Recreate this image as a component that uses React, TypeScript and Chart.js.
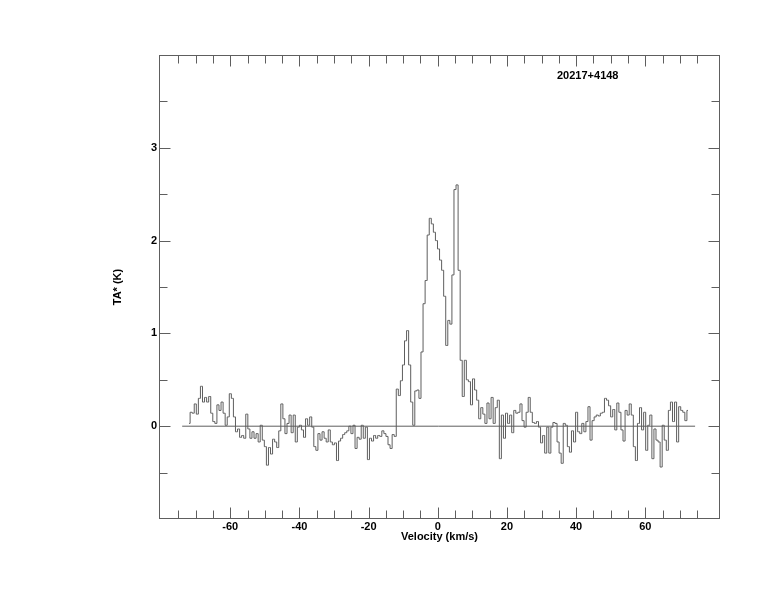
import React, { useEffect, useRef } from 'react';
import { Chart, registerables } from 'chart.js';

Chart.register(...registerables);

// Spectrum channels (velocity grid) and antenna temperatures
const channelStart = -71.9; // km/s, centre of first channel
const channelWidth = 0.596; // km/s
const temperatures: number[] = [
  0.03, 0.15, 0.14, 0.24, 0.13, 0.30, 0.43, 0.26, 0.31, 0.26,
  0.32, 0.14, 0.05, 0.03, 0.23, 0.17, 0.26, 0.14, 0.01, 0.10,
  0.35, 0.30, 0.10, -0.06, -0.03, -0.12, -0.10, -0.13, 0.13, -0.03,
  -0.13, -0.06, -0.13, -0.08, -0.17, 0.01, -0.15, -0.22, -0.42, -0.23,
  -0.30, -0.14, -0.17, -0.23, -0.05, 0.24, 0.08, -0.08, 0.03, 0.12,
  -0.07, 0.12, -0.17, -0.01, 0.01, -0.04, -0.12, 0.08, 0.01, 0.10,
  -0.01, -0.22, -0.26, -0.08, -0.15, -0.06, -0.13, -0.17, -0.04, -0.17,
  -0.20, -0.18, -0.37, -0.16, -0.13, -0.09, -0.07, -0.05, 0.00, -0.08,
  0.01, -0.24, -0.12, -0.14, 0.01, -0.13, -0.01, -0.36, -0.13, -0.16,
  -0.10, -0.13, -0.10, -0.11, -0.05, -0.08, -0.11, -0.20, -0.24, -0.09,
  -0.11, 0.40, 0.33, 0.49, 0.66, 0.92, 1.03, 0.66, 0.26, 0.01,
  0.38, 0.39, 0.30, 0.80, 1.32, 1.57, 2.06, 2.24, 2.18, 2.09,
  2.00, 1.91, 1.79, 1.68, 1.40, 0.87, 1.14, 1.10, 1.63, 2.55,
  2.60, 1.68, 0.71, 0.32, 0.71, 0.50, 0.48, 0.23, 0.51, 0.39,
  0.28, 0.08, 0.20, 0.13, 0.03, 0.25, 0.08, 0.31, 0.03, 0.20,
  0.28, -0.35, 0.12, -0.13, 0.14, 0.03, 0.12, -0.07, 0.17, 0.14,
  0.15, 0.24, 0.06, -0.01, 0.15, 0.31, 0.15, 0.04, 0.03, 0.05,
  -0.01, -0.18, -0.10, -0.29, -0.01, -0.29, -0.01, 0.04, 0.03, -0.17,
  -0.29, -0.40, 0.03, 0.01, -0.22, -0.28, -0.05, -0.17, 0.15, -0.06,
  -0.08, 0.03, -0.06, 0.05, 0.21, -0.15, 0.06, 0.10, 0.12, 0.11,
  0.14, 0.15, 0.30, 0.28, 0.22, 0.10, 0.18, -0.04, 0.25, 0.15,
  -0.04, -0.16, 0.17, 0.12, 0.24, 0.12, -0.22, -0.37, 0.03, 0.20,
  -0.04, 0.15, -0.26, 0.01, 0.12, -0.35, -0.03, -0.15, -0.17, -0.44,
  0.01, -0.15, -0.26, 0.17, 0.26, 0.05, 0.26, -0.17, 0.21, 0.17,
  0.15, 0.06, 0.17,
];

// Zero baseline
const baselineVelocities = [-73.9, 74.4];
const baselineValues = [0, 0];

// Axes
const xRange = [-80.6, 81.6];
const yRange = [-1, 4];
const xTickLabels = [-60, -40, -20, 0, 20, 40, 60];
const yTickLabels = [0, 1, 2, 3];
const xTickMarks = { from: -75, to: 75, step: 5, majorEvery: 20 };
const yTickMarks = { from: -0.5, to: 3.5, step: 0.5, majorEvery: 1 };

const sourceName = '20217+4148';
const xTitle = 'Velocity (km/s)';
const yTitle = 'TA* (K)';

const LINE = '#5e5e5e';
const FONT = 'bold 11px "Liberation Sans", Arial, Helvetica, sans-serif';

const isMultiple = (v: number, m: number) => Math.abs(v / m - Math.round(v / m)) < 1e-6;

const framePlugin = {
  id: 'classFrame',
  afterDraw(chart: any) {
    const { ctx, chartArea: a, scales } = chart;
    const xs = scales.x;
    const ys = scales.y;
    const L = Math.round(a.left) + 0.5;
    const R = Math.round(a.right) - 0.5;
    const T = Math.round(a.top) + 0.5;
    const B = Math.round(a.bottom) - 0.5;
    ctx.save();
    ctx.strokeStyle = LINE;
    ctx.lineWidth = 1;
    ctx.strokeRect(L, T, R - L, B - T);

    ctx.beginPath();
    for (let v = xTickMarks.from; v <= xTickMarks.to + 1e-9; v += xTickMarks.step) {
      const px = Math.round(xs.getPixelForValue(v)) + 0.5;
      const len = isMultiple(v, xTickMarks.majorEvery) ? 11 : 8;
      ctx.moveTo(px, B);
      ctx.lineTo(px, B - len);
      ctx.moveTo(px, T);
      ctx.lineTo(px, T + len);
    }
    for (let v = yTickMarks.from; v <= yTickMarks.to + 1e-9; v += yTickMarks.step) {
      const py = Math.round(ys.getPixelForValue(v)) + 0.5;
      const len = isMultiple(v, yTickMarks.majorEvery) ? 11 : 8;
      ctx.moveTo(L, py);
      ctx.lineTo(L + len, py);
      ctx.moveTo(R, py);
      ctx.lineTo(R - len, py);
    }
    ctx.stroke();

    ctx.fillStyle = '#000';
    ctx.font = FONT;
    ctx.textBaseline = 'middle';
    ctx.textAlign = 'center';
    xTickLabels.forEach((v) => {
      ctx.fillText(String(v), xs.getPixelForValue(v), a.bottom + 8);
    });
    ctx.textAlign = 'right';
    yTickLabels.forEach((v) => {
      ctx.fillText(String(v), a.left - 2, ys.getPixelForValue(v));
    });

    ctx.textAlign = 'center';
    ctx.fillText(xTitle, (a.left + a.right) / 2, a.bottom + 18);

    ctx.save();
    ctx.translate(a.left - 41, (a.top + a.bottom) / 2);
    ctx.rotate(-Math.PI / 2);
    ctx.fillText(yTitle, 0, 0);
    ctx.restore();

    ctx.textAlign = 'left';
    ctx.fillText(sourceName, a.right - 163, a.top + 21);
    ctx.restore();
  },
};

export default function App() {
  const ref = useRef<HTMLCanvasElement | null>(null);

  useEffect(() => {
    if (!ref.current) return;
    const spectrum = temperatures.map((t, i) => ({ x: channelStart + channelWidth * i, y: t }));
    const baseline = baselineVelocities.map((v, i) => ({ x: v, y: baselineValues[i] }));
    const chart = new Chart(ref.current, {
      type: 'line',
      data: {
        datasets: [
          {
            data: baseline,
            borderColor: LINE,
            borderWidth: 1,
            pointRadius: 0,
            fill: false,
          },
          {
            data: spectrum,
            stepped: 'middle',
            borderColor: LINE,
            borderWidth: 1,
            pointRadius: 0,
            fill: false,
          },
        ],
      },
      options: {
        responsive: false,
        animation: false,
        events: [],
        layout: { padding: { left: 0, right: 54, top: 55, bottom: 0 } },
        plugins: {
          legend: { display: false },
          tooltip: { enabled: false },
          title: { display: false },
        },
        scales: {
          x: {
            type: 'linear',
            min: xRange[0],
            max: xRange[1],
            grid: { display: false },
            border: { display: false },
            ticks: { display: false },
            afterFit: (s: any) => {
              s.height = 93;
            },
          },
          y: {
            type: 'linear',
            min: yRange[0],
            max: yRange[1],
            grid: { display: false },
            border: { display: false },
            ticks: { display: false },
            afterFit: (s: any) => {
              s.width = 159;
            },
          },
        },
      } as any,
      plugins: [framePlugin],
    });
    return () => chart.destroy();
  }, []);

  return (
    <div style={{ position: 'fixed', left: 0, top: 0, width: 774, height: 612, background: '#fff' }}>
      <canvas ref={ref} width={774} height={612} style={{ display: 'block', width: 774, height: 612 }} />
    </div>
  );
}
